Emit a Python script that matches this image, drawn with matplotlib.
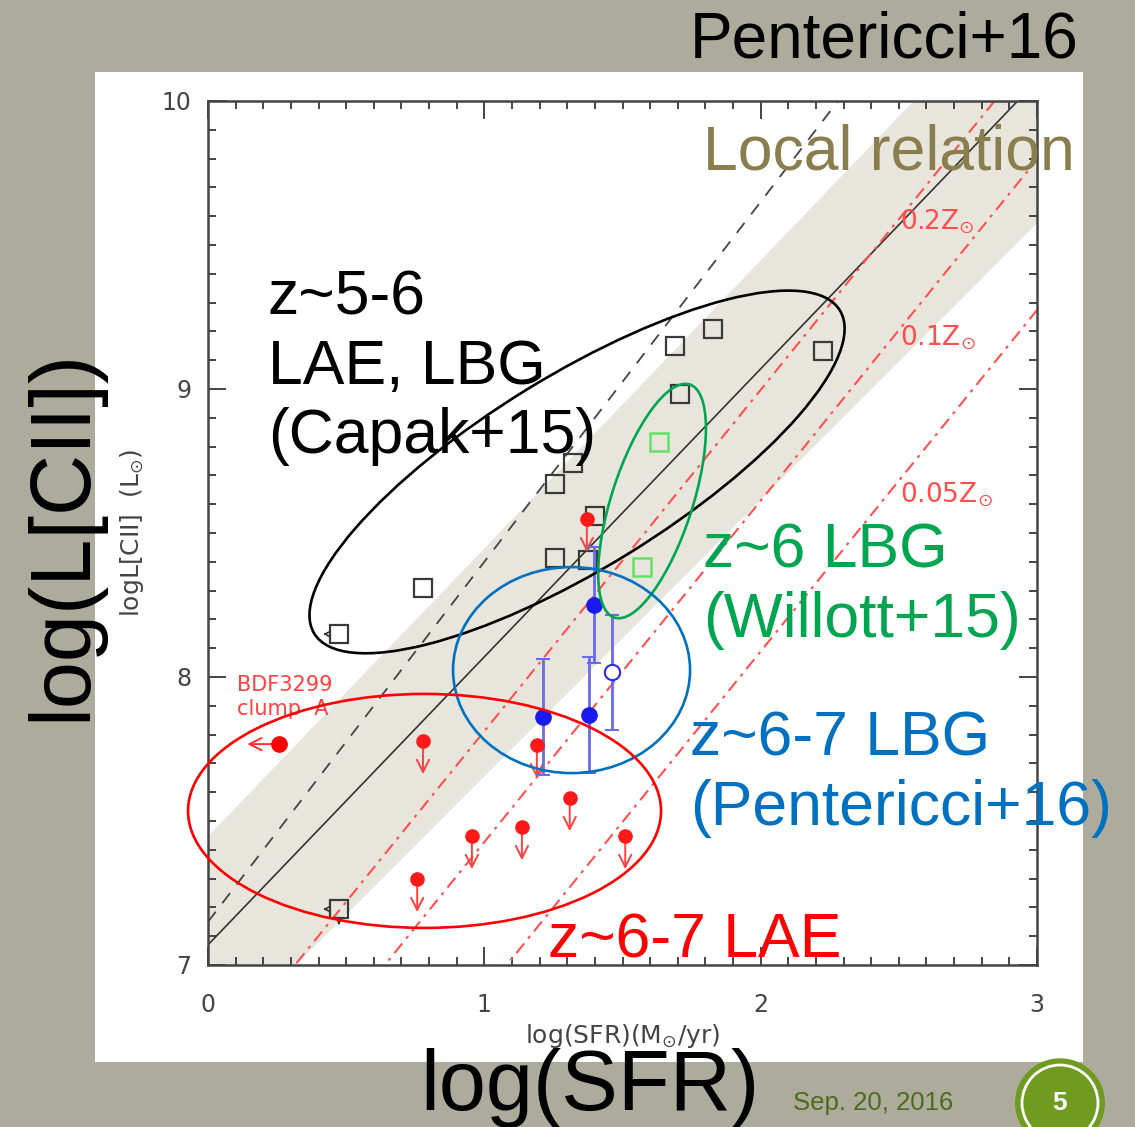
import matplotlib.pyplot as plt
import numpy as np
from matplotlib.patches import Ellipse, Rectangle, Circle
from matplotlib.transforms import ScaledTranslation

W, H = 1135, 1127

# Capak+15 z~5-6 LAE/LBG (open squares)
capak_sfr = [0.474, 0.778, 1.255, 1.255, 1.320, 1.374, 1.400, 1.689, 1.826, 2.224, 1.707, 0.474]
capak_lcii = [8.149, 8.309, 8.413, 8.670, 8.743, 8.406, 8.560, 9.149, 9.210, 9.132, 8.983, 7.194]
capak_sfr_limit = [0.474, 0.474]
capak_sfr_limit_l = [8.149, 7.194]
capak_both_limit = (0.474, 7.194)

# Willott+15 z~6 LBG
willott_sfr = [1.631, 1.570]
willott_lcii = [8.816, 8.382]

# Pentericci+16 z~6-7 LBG
pent_sfr = [1.396, 1.212, 1.378]
pent_lcii = [8.250, 7.861, 7.868]
pent_err = [0.20, 0.20, 0.20]
pent_open_sfr = [1.461]
pent_open_lcii = [8.017]
pent_open_err = [0.20]

# z~6-7 LAE upper limits in L[CII]
lae_sfr = [1.371, 0.778, 1.190, 1.309, 0.955, 1.136, 1.510, 0.757]
lae_lcii = [8.549, 7.778, 7.764, 7.580, 7.448, 7.479, 7.448, 7.299]
bdf_sfr, bdf_lcii = 0.257, 7.767

# relations: (slope, intercept)
local_rel = (1.0, 7.07)
band_hi = (1.0, 7.45)
band_lo = (0.96, 6.698)
capak_rel = (1.25, 7.15)
vallini_slope = 1.185
vallini_icpt = [6.627, 6.242, 5.719]
vallini_labels = ['0.2Z$_{\\odot}$', '0.1Z$_{\\odot}$', '0.05Z$_{\\odot}$']
vallini_label_pos = [(900, 222), (900, 338), (900, 495)]

# selection ellipses: centre (data), width/height (inch), angle, colour
ell_centers = [(1.3355, 8.712), (1.607, 8.611), (1.3156, 8.024), (0.7836, 7.535)]
ell_sizes = [(6.17, 1.93), (2.45, 0.81), (2.37, 2.06), (4.73, 2.34)]
ell_angles = [31.6, 72.1, 0.0, 0.0]
ell_colors = ['black', '#00a651', '#0070c0', '#ff0000']

BIG = ['Liberation Sans', 'DejaVu Sans']


def fx(px):
    return px / W


def fy(py):
    return 1 - py / H


fig = plt.figure(figsize=(W / 100, H / 100), dpi=100, facecolor='#adab9b')
fig.add_artist(Rectangle((fx(95), fy(1062)), fx(1083) - fx(95), fy(72) - fy(1062),
                         transform=fig.transFigure, facecolor='white', edgecolor='none', zorder=-1))

ax = fig.add_axes([fx(208), fy(965), fx(1037) - fx(208), fy(101) - fy(965)])
ax.set_facecolor('none')
ax.set_xlim(0, 3)
ax.set_ylim(7, 10)

x = np.linspace(0, 3, 200)
ax.fill_between(x, band_lo[0] * x + band_lo[1], band_hi[0] * x + band_hi[1],
                color='#e8e6dc', lw=0, zorder=1)
ax.plot(x, local_rel[0] * x + local_rel[1], color='#333333', lw=1.2, zorder=2)
ax.plot(x, capak_rel[0] * x + capak_rel[1], color='#444444', lw=1.3,
        ls=(0, (7, 6)), zorder=2)
for b in vallini_icpt:
    ax.plot(x, vallini_slope * x + b, color='#ff5050', lw=1.5,
            ls=(0, (6, 3, 1.5, 3)), zorder=2)
for lab, (px, py) in zip(vallini_labels, vallini_label_pos):
    fig.text(fx(px), fy(py), lab, color='#ff4d4d', fontsize=19, va='center', ha='left')

# Capak squares and limit arrows
ax.plot(capak_sfr, capak_lcii, 's', ms=13, mfc='none', mec='#3a3a3a', mew=1.6, zorder=4)
for sx, sy in zip(capak_sfr_limit, capak_sfr_limit_l):
    ax.annotate('', xy=(sx - 0.068, sy), xytext=(sx - 0.035, sy),
                arrowprops=dict(arrowstyle='->', color='#333333', lw=1.2, mutation_scale=10))
ax.annotate('', xy=(capak_both_limit[0], capak_both_limit[1] - 0.065),
            xytext=(capak_both_limit[0], capak_both_limit[1] - 0.035),
            arrowprops=dict(arrowstyle='->', color='#333333', lw=1.2, mutation_scale=10))

ax.plot(willott_sfr, willott_lcii, 's', ms=13, mfc='none', mec='#66e066', mew=1.8, zorder=4)

# Pentericci points
ax.errorbar(pent_sfr, pent_lcii, yerr=pent_err, fmt='o', ms=11, color='#1a1aee',
            ecolor='#6a6aee', elinewidth=2, capsize=5, capthick=1.5, zorder=5)
ax.errorbar(pent_open_sfr, pent_open_lcii, yerr=pent_open_err, fmt='o', ms=11,
            mfc='white', mec='#2a2aee', mew=1.5, ecolor='#6a6aee', elinewidth=2,
            capsize=5, capthick=1.5, zorder=5)

# LAE upper limits
ax.plot(lae_sfr, lae_lcii, 'o', ms=9.5, color='#ff1a1a', zorder=5)
for sx, sy in zip(lae_sfr, lae_lcii):
    ax.annotate('', xy=(sx, sy - 0.125), xytext=(sx, sy),
                arrowprops=dict(arrowstyle='->', color='#ff4040', lw=1.4, mutation_scale=22),
                zorder=4)
ax.plot([bdf_sfr], [bdf_lcii], 'o', ms=11, color='#ff0000', zorder=5)
ax.annotate('', xy=(bdf_sfr - 0.125, bdf_lcii), xytext=(bdf_sfr, bdf_lcii),
            arrowprops=dict(arrowstyle='->', color='#ff3030', lw=1.4, mutation_scale=22))
ax.text(0.105, 7.93, 'BDF3299\nclump  A', color='#ff4040', fontsize=15,
        va='center', ha='left', linespacing=1.25)

for (cx, cy), (w, h), ang, c in zip(ell_centers, ell_sizes, ell_angles, ell_colors):
    tr = fig.dpi_scale_trans + ScaledTranslation(cx, cy, ax.transData)
    ax.add_patch(Ellipse((0, 0), w, h, angle=ang, transform=tr, fill=False,
                         edgecolor=c, lw=1.9, zorder=6, clip_on=False))

ax.set_xticks([0, 1, 2, 3])
ax.set_yticks([7, 8, 9, 10])
ax.set_xticks(np.arange(0, 3.01, 0.1), minor=True)
ax.set_yticks(np.arange(7, 10.01, 0.1), minor=True)
ax.tick_params(which='both', direction='in', top=True, right=True, colors='#444444',
               labelcolor='#444444', width=1.4)
ax.tick_params(which='major', length=13, labelsize=17)
ax.tick_params(which='minor', length=6)
ax.tick_params(axis='x', pad=20)
ax.tick_params(axis='y', pad=12)
for s in ax.spines.values():
    s.set_color('#444444')
    s.set_linewidth(1.8)
ax.set_xlabel('log(SFR)(M$_{\\odot}$/yr)', fontsize=18, color='#444444', labelpad=4)
ax.set_ylabel('logL[CII]  (L$_{\\odot}$)', fontsize=18, color='#444444', labelpad=11)

# slide annotations
fig.text(fx(690), fy(57), 'Pentericci+16', family=BIG, fontsize=46, color='black')
fig.text(fx(703), fy(170), 'Local relation', family=BIG, fontsize=45, color='#8a7e4e')
fig.text(fx(268), fy(453), 'z~5-6\nLAE, LBG\n(Capak+15)', family=BIG, fontsize=45,
         color='black', linespacing=1.22, zorder=10)
fig.text(fx(703), fy(637), 'z~6 LBG\n(Willott+15)', family=BIG, fontsize=45,
         color='#00a550', linespacing=1.22)
fig.text(fx(690), fy(825), 'z~6-7 LBG\n(Pentericci+16)', family=BIG, fontsize=45,
         color='#0070c0', linespacing=1.22)
fig.text(fx(548), fy(957), 'z~6-7 LAE', family=BIG, fontsize=45, color='#ff0000')
fig.text(fx(63), fy(535), 'log(L[CII])', family=BIG, fontsize=61, color='black',
         rotation=90, ha='center', va='center')
fig.text(fx(420), fy(1110), 'log(SFR)', family=BIG, fontsize=61, color='black')
fig.text(fx(793), fy(1103), 'Sep. 20, 2016', family=BIG, fontsize=18.5, color='#4d6b1f',
         va='center')
fig.add_artist(Circle((fx(1060), fy(1103)), 45 / W, transform=fig.transFigure,
                      facecolor='#6e9b20', edgecolor='none'))
fig.add_artist(Ellipse((fx(1060), fy(1103)), 76 / W, 76 / H, transform=fig.transFigure,
                       facecolor='none', edgecolor='white', lw=2))
fig.text(fx(1060), fy(1103), '5', family=BIG, fontsize=19, fontweight='bold',
         color='white', ha='center', va='center')

fig.savefig('out.png', dpi=100, facecolor=fig.get_facecolor())
